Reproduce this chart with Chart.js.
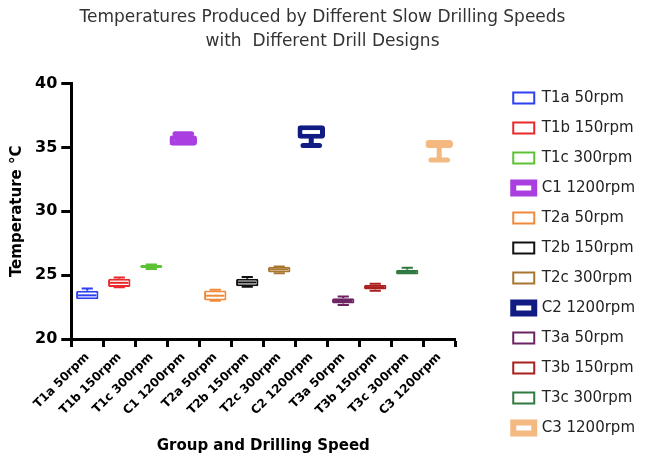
<!DOCTYPE html>
<html>
<head>
<meta charset="utf-8">
<script src="https://cdn.jsdelivr.net/npm/chart.js@4.4.1/dist/chart.umd.min.js"></script>
<style>
  html, body { margin: 0; padding: 0; background: #fff; }
  #wrap { width: 645px; height: 463px; }
</style>
</head>
<body>
<div id="wrap"><canvas id="chart"></canvas></div>
<script>
// Groups (drill design + speed) and temperature box-plot statistics, °C
const groups = ['T1a 50rpm', 'T1b 150rpm', 'T1c 300rpm', 'C1 1200rpm',
                'T2a 50rpm', 'T2b 150rpm', 'T2c 300rpm', 'C2 1200rpm',
                'T3a 50rpm', 'T3b 150rpm', 'T3c 300rpm', 'C3 1200rpm'];
const minTemp    = [23.12, 24.05, 25.48, 35.14, 23.00, 24.10, 25.15, 35.16, 22.66, 23.78, 25.05, 34.02];
const q1Temp     = [23.12, 24.08, 25.56, 35.14, 23.02, 24.14, 25.21, 35.69, 22.78, 23.88, 25.05, 34.95];
const medianTemp = [23.42, 24.40, 25.68, 35.55, 23.39, 24.43, 25.45, 35.95, 22.98, 24.06, 25.25, 35.20];
const q3Temp     = [23.78, 24.72, 25.80, 35.95, 23.80, 24.72, 25.66, 36.73, 23.20, 24.25, 25.42, 35.58];
const maxTemp    = [23.95, 24.82, 25.84, 36.08, 23.86, 24.85, 25.68, 36.73, 23.32, 24.32, 25.58, 35.58];
const yTicks = [20, 25, 30, 35, 40];

const colors = ['#2f3ff2', '#e8282a', '#5cc234', '#a93fe0',
                '#f08a3a', '#111111', '#a8752e', '#101c84',
                '#6c2362', '#aa1e1e', '#2f7a40', '#f4b881'];

const FONT = "'DejaVu Sans', sans-serif";
const isControl = name => name.startsWith('C');

const datasets = groups.map((name, i) => ({
  label: name,
  data: groups.map((_, j) => (j === i ? [q1Temp[i], q3Temp[i]] : null)),
  backgroundColor: '#ffffff',
  borderColor: colors[i],
  borderWidth: isControl(name) ? 5 : 2,
  borderSkipped: false,
  borderRadius: isControl(name) ? 3 : 1.5,
  barPercentage: isControl(name) ? 0.86 : 0.70,
  categoryPercentage: 1,
  grouped: false
}));

// Whiskers, caps and median lines drawn around the floating bars
const boxWhiskers = {
  id: 'boxWhiskers',
  beforeDatasetsDraw(chart) {
    const { ctx } = chart;
    const y = chart.scales.y;
    chart.data.datasets.forEach((ds, i) => {
      const bar = chart.getDatasetMeta(i).data[i];
      if (!bar) return;
      const heavy = isControl(groups[i]);
      const lw = heavy ? 5 : 2;
      const capW = bar.width * (heavy ? 0.6 : 0.5);
      const yMin = y.getPixelForValue(minTemp[i]);
      const yMax = y.getPixelForValue(maxTemp[i]);
      const yQ1 = y.getPixelForValue(q1Temp[i]);
      const yQ3 = y.getPixelForValue(q3Temp[i]);
      ctx.save();
      ctx.strokeStyle = colors[i];
      ctx.lineWidth = lw;
      ctx.lineCap = heavy ? 'round' : 'butt';
      ctx.beginPath();
      if (yMax < yQ3) {
        ctx.moveTo(bar.x, yQ3); ctx.lineTo(bar.x, yMax);
        ctx.moveTo(bar.x - capW / 2, yMax); ctx.lineTo(bar.x + capW / 2, yMax);
      }
      if (yMin > yQ1) {
        ctx.moveTo(bar.x, yQ1); ctx.lineTo(bar.x, yMin);
        ctx.moveTo(bar.x - capW / 2, yMin); ctx.lineTo(bar.x + capW / 2, yMin);
      }
      ctx.stroke();
      ctx.restore();
    });
  },
  afterDatasetsDraw(chart) {
    const { ctx } = chart;
    const y = chart.scales.y;
    chart.data.datasets.forEach((ds, i) => {
      const bar = chart.getDatasetMeta(i).data[i];
      if (!bar) return;
      const bw = ds.borderWidth;
      const yMed = y.getPixelForValue(medianTemp[i]);
      ctx.save();
      ctx.strokeStyle = colors[i];
      ctx.lineWidth = 2;
      ctx.beginPath();
      ctx.moveTo(bar.x - bar.width / 2 + bw, yMed);
      ctx.lineTo(bar.x + bar.width / 2 - bw, yMed);
      ctx.stroke();
      ctx.restore();
    });
  }
};

new Chart(document.getElementById('chart'), {
  type: 'bar',
  data: { labels: groups, datasets },
  plugins: [boxWhiskers],
  options: {
    responsive: true,
    maintainAspectRatio: false,
    animation: false,
    events: [],
    layout: { padding: { top: 0, right: 0, bottom: 0, left: 0 } },
    plugins: {
      tooltip: { enabled: false },
      title: {
        display: true,
        text: ['Temperatures Produced by Different Slow Drilling Speeds', 'with  Different Drill Designs'],
        color: '#333333',
        font: { family: FONT, size: 17, weight: 'normal', lineHeight: 1.4 },
        padding: { top: 6, bottom: 30 }
      },
      legend: {
        position: 'right',
        align: 'start',
        maxWidth: 220,
        title: { display: true, text: '', font: { size: 12, lineHeight: 1.2 }, padding: { top: 61, bottom: 0 } },
        labels: {
          boxWidth: 21,
          boxHeight: 11,
          padding: 15,
          color: '#222222',
          font: { family: FONT, size: 15 },
          generateLabels(chart) {
            return chart.data.datasets.map((ds, i) => ({
              text: ds.label,
              fillStyle: '#ffffff',
              strokeStyle: ds.borderColor,
              fontColor: '#222222',
              lineWidth: isControl(ds.label) ? 6 : 2,
              hidden: false,
              datasetIndex: i
            }));
          }
        }
      }
    },
    scales: {
      x: {
        offset: true,
        grid: { display: true, drawOnChartArea: false, drawTicks: true, tickLength: 8, tickWidth: 3, tickColor: '#000' },
        border: { display: true, color: '#000', width: 3 },
        ticks: {
          color: '#000',
          font: { family: FONT, size: 12, weight: 'bold' },
          maxRotation: 45,
          minRotation: 45,
          padding: 3,
          autoSkip: false
        },
        title: {
          display: true,
          text: 'Group and Drilling Speed',
          color: '#000',
          font: { family: FONT, size: 15, weight: 'bold', lineHeight: 1.2 },
          padding: { top: 16, bottom: 8 }
        }
      },
      y: {
        min: 20,
        max: 40,
        afterBuildTicks(scale) { scale.ticks = yTicks.map(v => ({ value: v })); },
        grid: { display: true, drawOnChartArea: false, drawTicks: true, tickLength: 10, tickWidth: 3, tickColor: '#000' },
        border: { display: true, color: '#000', width: 3 },
        ticks: {
          color: '#000',
          font: { family: FONT, size: 16, weight: 'bold' },
          padding: 4
        },
        title: {
          display: true,
          text: 'Temperature °C',
          color: '#000',
          font: { family: FONT, size: 15, weight: 'bold', lineHeight: 1.2 },
          padding: { top: 8, bottom: 5 }
        }
      },
      spacer: {
        type: 'linear',
        position: 'right',
        display: true,
        grid: { display: false },
        border: { display: false },
        ticks: { display: false },
        afterFit(scale) { scale.width = 43; }
      }
    }
  }
});
</script>
</body>
</html>
